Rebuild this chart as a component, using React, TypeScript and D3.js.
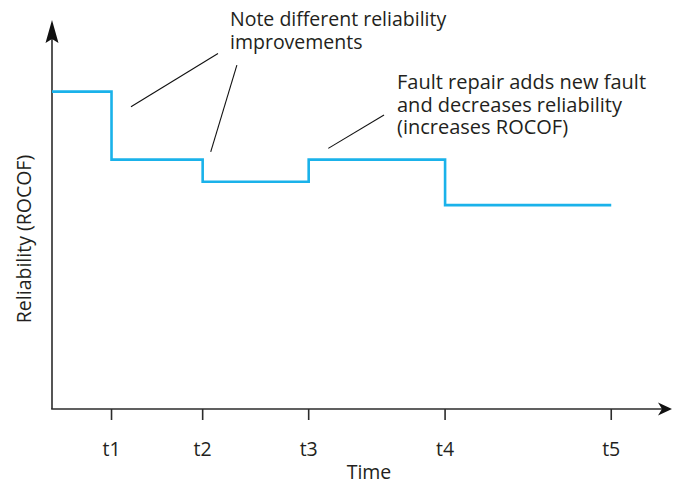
import React from "react";
import * as d3 from "d3";

// ---- data ----
const tickLabels = ["t1", "t2", "t3", "t4", "t5"];
const tickTimes = [9.6, 24.3, 41.4, 63.4, 90.2];
// reliability level held from each change point (starting at time 0)
const stepTimes = [0, 9.6, 24.3, 41.4, 63.4, 90.2];
const stepLevels = [81.6, 64.1, 58.4, 64.1, 52.4, 52.4];

// annotation pointer lines in data units [x1, y1, x2, y2]
const pointerLines = [
  [12.74, 77.7, 26.77, 91.4],
  [25.6, 66.1, 29.82, 88.4],
  [44.56, 67.0, 53.55, 75.6],
];
const noteLines = ["Note different reliability", "improvements"];
const faultLines = [
  "Fault repair adds new fault",
  "and decreases reliability",
  "(increases ROCOF)",
];
const xTitle = "Time";
const yTitle = "Reliability (ROCOF)";

// ---- layout ----
const W = 673;
const H = 484;
const X0 = 52;
const Y0 = 409;
const FONT = "'Open Sans', sans-serif";
const FS = 19.5;
const TEXT = "#231f20";
const AXIS = "#2b2b2b";
const LINE = "#1ab2ea";

export default function App() {
  const x = d3.scaleLinear().domain([0, 100]).range([X0, 672]);
  const y = d3.scaleLinear().domain([0, 100]).range([Y0, 20]);

  const pts: [number, number][] = stepTimes.map((t, i) => [t, stepLevels[i]]);
  const line = d3
    .line<[number, number]>()
    .x((d) => x(d[0]))
    .y((d) => y(d[1]))
    .curve(d3.curveStepAfter);

  const yTop = y(100);
  const xEnd = x(100);

  return (
    <svg
      width={W}
      height={H}
      style={{ position: "absolute", left: 0, top: 0, background: "#fff" }}
      fontFamily={FONT}
    >
      {/* axes */}
      <line x1={X0} y1={Y0} x2={X0} y2={yTop + 18} stroke={AXIS} strokeWidth={1.6} />
      <path
        d={`M${X0},${yTop} L${X0 + 6.5},${yTop + 23} L${X0},${yTop + 19} L${X0 - 6.5},${yTop + 23} Z`}
        fill="#111"
      />
      <line x1={X0 - 0.8} y1={Y0} x2={xEnd - 10} y2={Y0} stroke={AXIS} strokeWidth={1.6} />
      <path
        d={`M${xEnd},${Y0} L${xEnd - 14},${Y0 - 6.5} L${xEnd - 10},${Y0} L${xEnd - 14},${Y0 + 6.5} Z`}
        fill="#111"
      />
      {tickTimes.map((t, i) => (
        <g key={i}>
          <line x1={x(t)} x2={x(t)} y1={Y0} y2={Y0 + 11} stroke={AXIS} strokeWidth={1.6} />
          <text x={x(t)} y={455.5} textAnchor="middle" fontSize={FS} fill={TEXT}>
            {tickLabels[i]}
          </text>
        </g>
      ))}
      <text x={369} y={478.5} textAnchor="middle" fontSize={FS} fill={TEXT}>
        {xTitle}
      </text>
      <text
        transform={`translate(31,239) rotate(-90)`}
        textAnchor="middle"
        fontSize={FS}
        fill={TEXT}
      >
        {yTitle}
      </text>

      {/* step line */}
      <path d={line(pts) || ""} fill="none" stroke={LINE} strokeWidth={2.6} />

      {/* pointers */}
      {pointerLines.map((p, i) => (
        <line
          key={i}
          x1={x(p[0])}
          y1={y(p[1])}
          x2={x(p[2])}
          y2={y(p[3])}
          stroke="#111"
          strokeWidth={1.1}
        />
      ))}

      {/* annotations */}
      {noteLines.map((s, i) => (
        <text key={i} x={230} y={26 + i * 23} fontSize={FS} fill={TEXT}>
          {s}
        </text>
      ))}
      {faultLines.map((s, i) => (
        <text key={i} x={397} y={89 + i * 22.5} fontSize={20} fill={TEXT}>
          {s}
        </text>
      ))}
    </svg>
  );
}
